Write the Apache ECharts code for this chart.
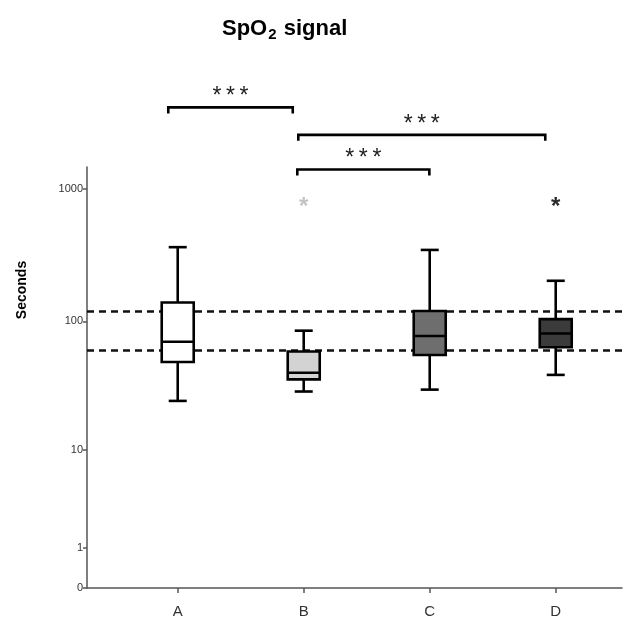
<!DOCTYPE html>
<html>
<head>
<meta charset="utf-8">
<script src="https://cdn.jsdelivr.net/npm/echarts@6/dist/echarts.min.js"></script>
<style>html,body{margin:0;padding:0;background:#fff;}#c{width:636px;height:629px;}</style>
</head>
<body>
<div id="c"></div>
<script>
// ---- data (seconds) ----
const categories = ['A', 'B', 'C', 'D'];
const positions = [1, 2, 3, 4];
const whiskerLow = [24.5, 29, 30, 39];
const q1 = [49, 36, 55.5, 63.5];
const medians = [70, 40.5, 77.5, 81];
const q3 = [139, 59, 120, 104];
const whiskerHigh = [364, 85, 347, 203];
const outlierX = [2, 4];
const outlierY = [790, 790];
const refLines = [120, 60];
const yTicks = [0, 1, 10, 100, 1000];
// significance brackets: [from x, to x, level (seconds)]
const bracketFrom = [0.925, 1.957, 1.949];
const bracketTo = [1.913, 3.917, 2.997];
const bracketLevel = [4100, 2550, 1400];
const bracketText = ['***', '***', '***'];

// ---- styles ----
const boxFills = ['#ffffff', '#d3d3d3', '#6e6e6e', '#3b3b3b'];
const outlierColors = ['#c4c4c4', '#2a2a2a'];
const FONT = 'Liberation Sans, Arial, sans-serif';

const T = v => Math.log10(v + 1); // log(x+1) scale

const boxData = positions.map((p, i) => [p, T(whiskerLow[i]), T(q1[i]), T(medians[i]), T(q3[i]), T(whiskerHigh[i])]);
const outData = outlierX.map((x, i) => [x, T(outlierY[i])]);
const brData = bracketFrom.map((f, i) => [f, bracketTo[i], T(bracketLevel[i])]);

const chart = echarts.init(document.getElementById('c'), null, {renderer: 'canvas'});
const LW = 2.6;
chart.setOption({
  animation: false,
  backgroundColor: '#fff',
  title: {
    text: 'SpO{sub|2} signal',
    left: 217, top: 10,
    textStyle: {
      fontFamily: FONT, fontSize: 22, fontWeight: 'bold', color: '#000',
      rich: { sub: { fontFamily: FONT, fontSize: 15, fontWeight: 'bold', color: '#000', padding: [12, 1, 0, 1] } }
    }
  },
  graphic: [{
    type: 'text', x: 22, y: 290, rotation: Math.PI / 2,
    style: { text: 'Seconds', font: 'bold 14px ' + FONT, fill: '#000', align: 'center', verticalAlign: 'middle' }
  }],
  grid: { left: 87, right: 14, top: 167, bottom: 41, outerBoundsMode: 'none', containLabel: false },
  xAxis: {
    type: 'value', min: 0.28, max: 4.526,
    axisLine: { show: true, lineStyle: { color: '#555', width: 1.5 } },
    axisTick: { show: true, length: 5, customValues: positions, lineStyle: { color: '#555', width: 1.5 } },
    axisLabel: { customValues: positions, formatter: v => categories[Math.round(v) - 1], fontFamily: FONT, fontSize: 15, color: '#333', margin: 16 },
    splitLine: { show: false }
  },
  yAxis: {
    type: 'value', min: 0, max: 3.165,
    axisLine: { show: true, lineStyle: { color: '#555', width: 1.5 } },
    axisTick: { show: true, length: 4, customValues: yTicks.map(T), lineStyle: { color: '#555', width: 1.5 } },
    axisLabel: { customValues: yTicks.map(T), formatter: v => String(Math.round(Math.pow(10, v) - 1)), fontFamily: FONT, fontSize: 11, color: '#333', margin: 4 },
    splitLine: { show: false }
  },
  series: [
    {
      type: 'custom', name: 'box', data: boxData, clip: false, z: 5,
      renderItem: (params, api) => {
        const x = api.value(0);
        const pMin = api.coord([x, api.value(1)]);
        const pQ1 = api.coord([x, api.value(2)]);
        const pMed = api.coord([x, api.value(3)]);
        const pQ3 = api.coord([x, api.value(4)]);
        const pMax = api.coord([x, api.value(5)]);
        const cx = pMin[0], hw = 16, cw = 9;
        const st = { stroke: '#000', lineWidth: LW };
        return { type: 'group', children: [
          { type: 'line', shape: { x1: cx, y1: pMin[1], x2: cx, y2: pQ1[1] }, style: st },
          { type: 'line', shape: { x1: cx, y1: pMax[1], x2: cx, y2: pQ3[1] }, style: st },
          { type: 'line', shape: { x1: cx - cw, y1: pMin[1], x2: cx + cw, y2: pMin[1] }, style: st },
          { type: 'line', shape: { x1: cx - cw, y1: pMax[1], x2: cx + cw, y2: pMax[1] }, style: st },
          { type: 'rect', shape: { x: cx - hw, y: pQ3[1], width: 2 * hw, height: pQ1[1] - pQ3[1] }, style: { fill: boxFills[params.dataIndex], stroke: '#000', lineWidth: LW } },
          { type: 'line', shape: { x1: cx - hw, y1: pMed[1], x2: cx + hw, y2: pMed[1] }, style: st }
        ]};
      },
      markLine: {
        silent: true, symbol: 'none', label: { show: false },
        lineStyle: { type: [7, 5], width: 2.6, color: '#111' },
        data: refLines.map(v => ({ yAxis: T(v) }))
      }
    },
    {
      type: 'custom', name: 'outliers', data: outData, clip: false, z: 6,
      renderItem: (params, api) => {
        const p = api.coord([api.value(0), api.value(1)]);
        return { type: 'text', x: p[0], y: p[1] + 5, style: { text: '*', font: 'bold 24px ' + FONT, fill: outlierColors[params.dataIndex], align: 'center', verticalAlign: 'middle' } };
      }
    },
    {
      type: 'custom', name: 'brackets', data: brData, clip: false, z: 6,
      renderItem: (params, api) => {
        const a = api.coord([api.value(0), api.value(2)]);
        const b = api.coord([api.value(1), api.value(2)]);
        const drop = 6;
        return { type: 'group', children: [
          { type: 'polyline', shape: { points: [[a[0], a[1] + drop], [a[0], a[1]], [b[0], b[1]], [b[0], b[1] + drop]] }, style: { stroke: '#000', lineWidth: LW, fill: null } },
          { type: 'text', x: (a[0] + b[0]) / 2, y: a[1] + 1, style: { text: bracketText[params.dataIndex].split('').join('\u2009'), font: '23px ' + FONT, fill: '#222', align: 'center', verticalAlign: 'bottom' } }
        ]};
      }
    }
  ]
});
</script>
</body>
</html>
